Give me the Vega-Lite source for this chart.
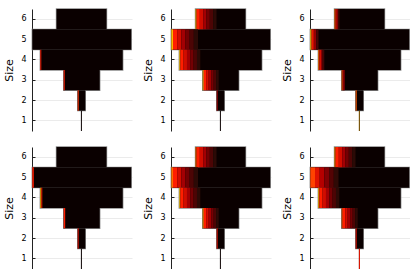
{
  "$schema": "https://vega.github.io/schema/vega-lite/v6.json",
  "padding": {"left": 3, "top": 8, "right": 0, "bottom": 0},
  "background": "white",
  "data": {"values": [
    {"p":1,"size":6,"x0":24.5,"x1":74.5,"k":"b"},{"p":1,"size":5,"x0":0.3,"x1":99.2,"k":"b"},{"p":1,"size":4,"x0":8.3,"x1":90.7,"k":"b"},{"p":1,"size":3,"x0":31.7,"x1":67.7,"k":"b"},{"p":1,"size":2,"x0":45.7,"x1":53.3,"k":"b"},{"p":1,"size":1,"x0":48.9,"x1":49.9,"k":"b"},
    {"p":2,"size":6,"x0":24.5,"x1":74.5,"k":"b"},{"p":2,"size":5,"x0":0.3,"x1":99.2,"k":"b"},{"p":2,"size":4,"x0":8.3,"x1":90.7,"k":"b"},{"p":2,"size":3,"x0":31.7,"x1":67.7,"k":"b"},{"p":2,"size":2,"x0":45.7,"x1":53.3,"k":"b"},{"p":2,"size":1,"x0":48.9,"x1":49.9,"k":"b"},
    {"p":3,"size":6,"x0":24.5,"x1":74.5,"k":"b"},{"p":3,"size":5,"x0":0.3,"x1":99.2,"k":"b"},{"p":3,"size":4,"x0":8.3,"x1":90.7,"k":"b"},{"p":3,"size":3,"x0":31.7,"x1":67.7,"k":"b"},{"p":3,"size":2,"x0":45.7,"x1":53.3,"k":"b"},{"p":3,"size":1,"x0":48.9,"x1":49.9,"k":"b"},
    {"p":4,"size":6,"x0":24.5,"x1":74.5,"k":"b"},{"p":4,"size":5,"x0":0.3,"x1":99.2,"k":"b"},{"p":4,"size":4,"x0":8.3,"x1":90.7,"k":"b"},{"p":4,"size":3,"x0":31.7,"x1":67.7,"k":"b"},{"p":4,"size":2,"x0":45.7,"x1":53.3,"k":"b"},{"p":4,"size":1,"x0":48.9,"x1":49.9,"k":"b"},
    {"p":5,"size":6,"x0":24.5,"x1":74.5,"k":"b"},{"p":5,"size":5,"x0":0.3,"x1":99.2,"k":"b"},{"p":5,"size":4,"x0":8.3,"x1":90.7,"k":"b"},{"p":5,"size":3,"x0":31.7,"x1":67.7,"k":"b"},{"p":5,"size":2,"x0":45.7,"x1":53.3,"k":"b"},{"p":5,"size":1,"x0":48.9,"x1":49.9,"k":"b"},
    {"p":6,"size":6,"x0":24.5,"x1":74.5,"k":"b"},{"p":6,"size":5,"x0":0.3,"x1":99.2,"k":"b"},{"p":6,"size":4,"x0":8.3,"x1":90.7,"k":"b"},{"p":6,"size":3,"x0":31.7,"x1":67.7,"k":"b"},{"p":6,"size":2,"x0":45.7,"x1":53.3,"k":"b"},{"p":6,"size":1,"x0":48.9,"x1":49.9,"k":"b"},

    {"p":1,"size":4,"x0":8.3,"x1":9.3,"v":0.55,"k":"s"},{"p":1,"size":3,"x0":31.7,"x1":32.7,"v":0.6,"k":"s"},{"p":1,"size":2,"x0":45.7,"x1":46.7,"v":0.62,"k":"s"},

    {"p":2,"size":6,"x0":24.5,"x1":25.5,"v":0.95,"k":"s"},{"p":2,"size":6,"x0":25.5,"x1":28.83,"v":0.6,"k":"s"},{"p":2,"size":6,"x0":28.83,"x1":32.17,"v":0.48,"k":"s"},{"p":2,"size":6,"x0":32.17,"x1":35.5,"v":0.36,"k":"s"},{"p":2,"size":6,"x0":35.5,"x1":38.83,"v":0.25,"k":"s"},{"p":2,"size":6,"x0":38.83,"x1":42.17,"v":0.15,"k":"s"},{"p":2,"size":6,"x0":42.17,"x1":45.5,"v":0.07,"k":"s"},
    {"p":2,"size":5,"x0":0.3,"x1":2,"v":0.9,"k":"s"},{"p":2,"size":5,"x0":2,"x1":6.17,"v":0.6,"k":"s"},{"p":2,"size":5,"x0":6.17,"x1":10.33,"v":0.48,"k":"s"},{"p":2,"size":5,"x0":10.33,"x1":14.5,"v":0.36,"k":"s"},{"p":2,"size":5,"x0":14.5,"x1":18.67,"v":0.25,"k":"s"},{"p":2,"size":5,"x0":18.67,"x1":22.83,"v":0.15,"k":"s"},{"p":2,"size":5,"x0":22.83,"x1":27,"v":0.07,"k":"s"},
    {"p":2,"size":4,"x0":8.3,"x1":9.3,"v":0.95,"k":"s"},{"p":2,"size":4,"x0":9.3,"x1":12.63,"v":0.6,"k":"s"},{"p":2,"size":4,"x0":12.63,"x1":15.97,"v":0.48,"k":"s"},{"p":2,"size":4,"x0":15.97,"x1":19.3,"v":0.36,"k":"s"},{"p":2,"size":4,"x0":19.3,"x1":22.63,"v":0.25,"k":"s"},{"p":2,"size":4,"x0":22.63,"x1":25.97,"v":0.15,"k":"s"},{"p":2,"size":4,"x0":25.97,"x1":29.3,"v":0.07,"k":"s"},
    {"p":2,"size":3,"x0":31.7,"x1":32.7,"v":0.95,"k":"s"},{"p":2,"size":3,"x0":32.7,"x1":35.2,"v":0.6,"k":"s"},{"p":2,"size":3,"x0":35.2,"x1":37.7,"v":0.48,"k":"s"},{"p":2,"size":3,"x0":37.7,"x1":40.2,"v":0.36,"k":"s"},{"p":2,"size":3,"x0":40.2,"x1":42.7,"v":0.25,"k":"s"},{"p":2,"size":3,"x0":42.7,"x1":45.2,"v":0.15,"k":"s"},{"p":2,"size":3,"x0":45.2,"x1":47.7,"v":0.07,"k":"s"},
    {"p":2,"size":2,"x0":45.7,"x1":46.7,"v":0.35,"k":"s"},

    {"p":3,"size":6,"x0":24.5,"x1":25.5,"v":0.75,"k":"s"},{"p":3,"size":6,"x0":25.5,"x1":26.83,"v":0.5,"k":"s"},{"p":3,"size":6,"x0":26.83,"x1":28.17,"v":0.3,"k":"s"},{"p":3,"size":6,"x0":28.17,"x1":29.5,"v":0.12,"k":"s"},
    {"p":3,"size":5,"x0":0.3,"x1":1.5,"v":0.95,"k":"s"},{"p":3,"size":5,"x0":1.5,"x1":3.83,"v":0.55,"k":"s"},{"p":3,"size":5,"x0":3.83,"x1":6.17,"v":0.33,"k":"s"},{"p":3,"size":5,"x0":6.17,"x1":8.5,"v":0.14,"k":"s"},
    {"p":3,"size":4,"x0":8.3,"x1":9.3,"v":0.75,"k":"s"},{"p":3,"size":4,"x0":9.3,"x1":10.97,"v":0.5,"k":"s"},{"p":3,"size":4,"x0":10.97,"x1":12.63,"v":0.3,"k":"s"},{"p":3,"size":4,"x0":12.63,"x1":14.3,"v":0.12,"k":"s"},
    {"p":3,"size":3,"x0":31.7,"x1":32.7,"v":0.7,"k":"s"},{"p":3,"size":3,"x0":32.7,"x1":34.7,"v":0.3,"k":"s"},
    {"p":3,"size":2,"x0":45.7,"x1":46.7,"v":0.7,"k":"s"},
    {"p":3,"size":1,"x0":48.9,"x1":49.4,"v":0.9,"k":"s"},

    {"p":4,"size":5,"x0":0.3,"x1":1.8,"v":0.6,"k":"s"},{"p":4,"size":4,"x0":8.3,"x1":9.3,"v":0.9,"k":"s"},{"p":4,"size":4,"x0":9.3,"x1":10.3,"v":0.55,"k":"s"},{"p":4,"size":3,"x0":31.7,"x1":33.2,"v":0.6,"k":"s"},{"p":4,"size":2,"x0":45.7,"x1":46.7,"v":0.5,"k":"s"},

    {"p":5,"size":6,"x0":24.5,"x1":25.5,"v":0.8,"k":"s"},{"p":5,"size":6,"x0":25.5,"x1":28.83,"v":0.6,"k":"s"},{"p":5,"size":6,"x0":28.83,"x1":32.17,"v":0.48,"k":"s"},{"p":5,"size":6,"x0":32.17,"x1":35.5,"v":0.36,"k":"s"},{"p":5,"size":6,"x0":35.5,"x1":38.83,"v":0.25,"k":"s"},{"p":5,"size":6,"x0":38.83,"x1":42.17,"v":0.15,"k":"s"},{"p":5,"size":6,"x0":42.17,"x1":45.5,"v":0.07,"k":"s"},
    {"p":5,"size":5,"x0":0.3,"x1":2,"v":0.75,"k":"s"},{"p":5,"size":5,"x0":2,"x1":6.17,"v":0.6,"k":"s"},{"p":5,"size":5,"x0":6.17,"x1":10.33,"v":0.48,"k":"s"},{"p":5,"size":5,"x0":10.33,"x1":14.5,"v":0.36,"k":"s"},{"p":5,"size":5,"x0":14.5,"x1":18.67,"v":0.25,"k":"s"},{"p":5,"size":5,"x0":18.67,"x1":22.83,"v":0.15,"k":"s"},{"p":5,"size":5,"x0":22.83,"x1":27,"v":0.07,"k":"s"},
    {"p":5,"size":4,"x0":8.3,"x1":9.3,"v":0.95,"k":"s"},{"p":5,"size":4,"x0":9.3,"x1":12.63,"v":0.6,"k":"s"},{"p":5,"size":4,"x0":12.63,"x1":15.97,"v":0.48,"k":"s"},{"p":5,"size":4,"x0":15.97,"x1":19.3,"v":0.36,"k":"s"},{"p":5,"size":4,"x0":19.3,"x1":22.63,"v":0.25,"k":"s"},{"p":5,"size":4,"x0":22.63,"x1":25.97,"v":0.15,"k":"s"},{"p":5,"size":4,"x0":25.97,"x1":29.3,"v":0.07,"k":"s"},
    {"p":5,"size":3,"x0":31.7,"x1":32.7,"v":0.9,"k":"s"},{"p":5,"size":3,"x0":32.7,"x1":35.2,"v":0.6,"k":"s"},{"p":5,"size":3,"x0":35.2,"x1":37.7,"v":0.48,"k":"s"},{"p":5,"size":3,"x0":37.7,"x1":40.2,"v":0.36,"k":"s"},{"p":5,"size":3,"x0":40.2,"x1":42.7,"v":0.25,"k":"s"},{"p":5,"size":3,"x0":42.7,"x1":45.2,"v":0.15,"k":"s"},{"p":5,"size":3,"x0":45.2,"x1":47.7,"v":0.07,"k":"s"},
    {"p":5,"size":2,"x0":45.7,"x1":46.7,"v":0.5,"k":"s"},

    {"p":6,"size":6,"x0":24.5,"x1":25.5,"v":0.85,"k":"s"},{"p":6,"size":6,"x0":25.5,"x1":28.83,"v":0.6,"k":"s"},{"p":6,"size":6,"x0":28.83,"x1":32.17,"v":0.48,"k":"s"},{"p":6,"size":6,"x0":32.17,"x1":35.5,"v":0.36,"k":"s"},{"p":6,"size":6,"x0":35.5,"x1":38.83,"v":0.25,"k":"s"},{"p":6,"size":6,"x0":38.83,"x1":42.17,"v":0.15,"k":"s"},{"p":6,"size":6,"x0":42.17,"x1":45.5,"v":0.07,"k":"s"},
    {"p":6,"size":5,"x0":0.3,"x1":5.0,"v":0.65,"k":"s"},{"p":6,"size":5,"x0":5.0,"x1":9.7,"v":0.52,"k":"s"},{"p":6,"size":5,"x0":9.7,"x1":14.4,"v":0.4,"k":"s"},{"p":6,"size":5,"x0":14.4,"x1":19.1,"v":0.28,"k":"s"},{"p":6,"size":5,"x0":19.1,"x1":23.8,"v":0.17,"k":"s"},{"p":6,"size":5,"x0":23.8,"x1":28.5,"v":0.08,"k":"s"},
    {"p":6,"size":4,"x0":8.3,"x1":9.3,"v":0.9,"k":"s"},{"p":6,"size":4,"x0":9.3,"x1":12.63,"v":0.6,"k":"s"},{"p":6,"size":4,"x0":12.63,"x1":15.97,"v":0.48,"k":"s"},{"p":6,"size":4,"x0":15.97,"x1":19.3,"v":0.36,"k":"s"},{"p":6,"size":4,"x0":19.3,"x1":22.63,"v":0.25,"k":"s"},{"p":6,"size":4,"x0":22.63,"x1":25.97,"v":0.15,"k":"s"},{"p":6,"size":4,"x0":25.97,"x1":29.3,"v":0.07,"k":"s"},
    {"p":6,"size":3,"x0":31.7,"x1":32.7,"v":0.7,"k":"s"},{"p":6,"size":3,"x0":32.7,"x1":35.2,"v":0.6,"k":"s"},{"p":6,"size":3,"x0":35.2,"x1":37.7,"v":0.48,"k":"s"},{"p":6,"size":3,"x0":37.7,"x1":40.2,"v":0.36,"k":"s"},{"p":6,"size":3,"x0":40.2,"x1":42.7,"v":0.25,"k":"s"},{"p":6,"size":3,"x0":42.7,"x1":45.2,"v":0.15,"k":"s"},{"p":6,"size":3,"x0":45.2,"x1":47.7,"v":0.07,"k":"s"},
    {"p":6,"size":2,"x0":45.7,"x1":46.7,"v":0.5,"k":"s"},
    {"p":6,"size":1,"x0":48.9,"x1":49.9,"v":0.55,"k":"s"}
  ]},
  "facet": {"field": "p", "type": "ordinal", "title": null, "header": {"title": null, "labels": false, "labelExpr": "''", "labelFontSize": 0, "labelPadding": 0, "titlePadding": 0}},
  "columns": 3,
  "bounds": "flush",
  "spacing": {"row": 16, "column": 39},
  "resolve": {"axis": {"y": "independent"}},
  "spec": {
    "width": 100,
    "height": 122,
    "encoding": {
      "x": {"field": "x0", "type": "quantitative", "scale": {"domain": [0, 100], "nice": false, "zero": false}, "axis": null},
      "x2": {"field": "x1"},
      "y": {"field": "size", "type": "ordinal", "sort": "descending", "scale": {"paddingInner": 0, "paddingOuter": 0}, "axis": {"title": "Size", "bandPosition": 0.5, "zindex": 0}}
    },
    "layer": [
      {"transform": [{"filter": "datum.k == 'b' && datum.size > 1"}], "mark": {"type": "rect", "fill": "#0a0000", "stroke": "#8a8a8a", "strokeWidth": 1.4}},
      {"transform": [{"filter": "datum.k == 'b'"}], "mark": {"type": "rect", "fill": "#0a0000"}},
      {"transform": [{"filter": "datum.k == 's'"}], "mark": {"type": "rect"},
       "encoding": {"color": {"field": "v", "type": "quantitative", "legend": null,
         "scale": {"domain": [0, 0.2, 0.4, 0.6, 0.8, 1], "range": ["#0a0000", "#600000", "#b40000", "#ff1e00", "#ff8000", "#ffe632"]}}}}
    ]
  },
  "config": {
    "view": {"stroke": null},
    "font": "DejaVu Sans",
    "header": {"labels": false, "title": null, "labelFontSize": 0, "labelPadding": 0, "titlePadding": 0},
    "axisY": {
      "grid": true, "gridColor": "#e6e6e6", "gridWidth": 0.8,
      "domainColor": "#222222", "domainWidth": 1,
      "tickColor": "#222222", "tickSize": -3, "labelPadding": 9,
      "labelFont": "DejaVu Sans", "labelFontSize": 8, "labelColor": "#000000",
      "titleFont": "DejaVu Sans", "titleFontSize": 11, "titleFontWeight": "normal", "titleColor": "#000000", "titlePadding": 6
    }
  }
}
